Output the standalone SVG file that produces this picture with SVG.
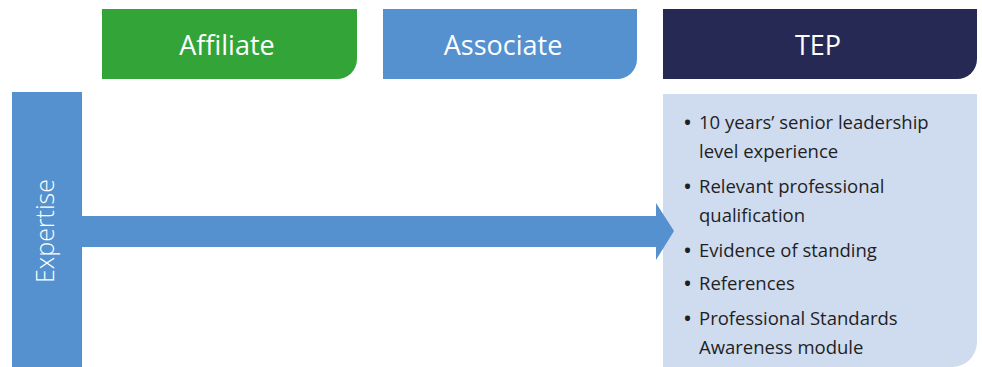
<svg xmlns="http://www.w3.org/2000/svg" width="982" height="367" viewBox="0 0 982 367">
<style>
.hd{font-family:"Open Sans","Noto Sans",sans-serif;font-size:27px;fill:#ffffff;text-anchor:middle}
.bl{font-family:"Open Sans","Noto Sans",sans-serif;font-size:18.5px;fill:#1f1f1f}
.bu{font-size:24px}
.ex{font-family:"Open Sans","Noto Sans",sans-serif;font-size:25px;font-weight:300;fill:#ffffff;text-anchor:middle}
</style>
<rect width="982" height="367" fill="#ffffff"/>
<g id="affiliate">
<path d="M102 9 H357 V59 A20 20 0 0 1 337 79 H102 Z" fill="#33a538"/>
<text class="hd" x="227" y="55">Affiliate</text>
</g>
<g id="associate">
<path d="M383 9 H637 V59 A20 20 0 0 1 617 79 H383 Z" fill="#5591cf"/>
<text class="hd" x="503" y="55">Associate</text>
</g>
<g id="tep">
<path d="M663 9 H977 V59 A20 20 0 0 1 957 79 H663 Z" fill="#262953"/>
<text class="hd" x="818" y="55">TEP</text>
</g>
<g id="expertise">
<rect x="12" y="92" width="70" height="275" fill="#5591cf"/>
<text class="ex" transform="translate(54 231) rotate(-90)">Expertise</text>
</g>
<g id="tep-criteria">
<path d="M663 94 H977 V342 A25 25 0 0 1 952 367 H663 Z" fill="#cfdbef"/>
<g class="bl">
<text class="bu" x="683" y="131">•</text><text x="699" y="129">10 years’ senior leadership</text>
<text x="699" y="158">level experience</text>
<text class="bu" x="683" y="195">•</text><text x="699" y="193">Relevant professional</text>
<text x="699" y="222">qualification</text>
<text class="bu" x="683" y="259">•</text><text x="699" y="257">Evidence of standing</text>
<text class="bu" x="683" y="292">•</text><text x="699" y="290">References</text>
<text class="bu" x="683" y="327">•</text><text x="699" y="325">Professional Standards</text>
<text x="699" y="354">Awareness module</text>
</g>
</g>
<g id="connectors">
<path d="M81 216 H656 V203 L674 231 L656 260 V247 H81 Z" fill="#5591cf"/>
</g>
</svg>
